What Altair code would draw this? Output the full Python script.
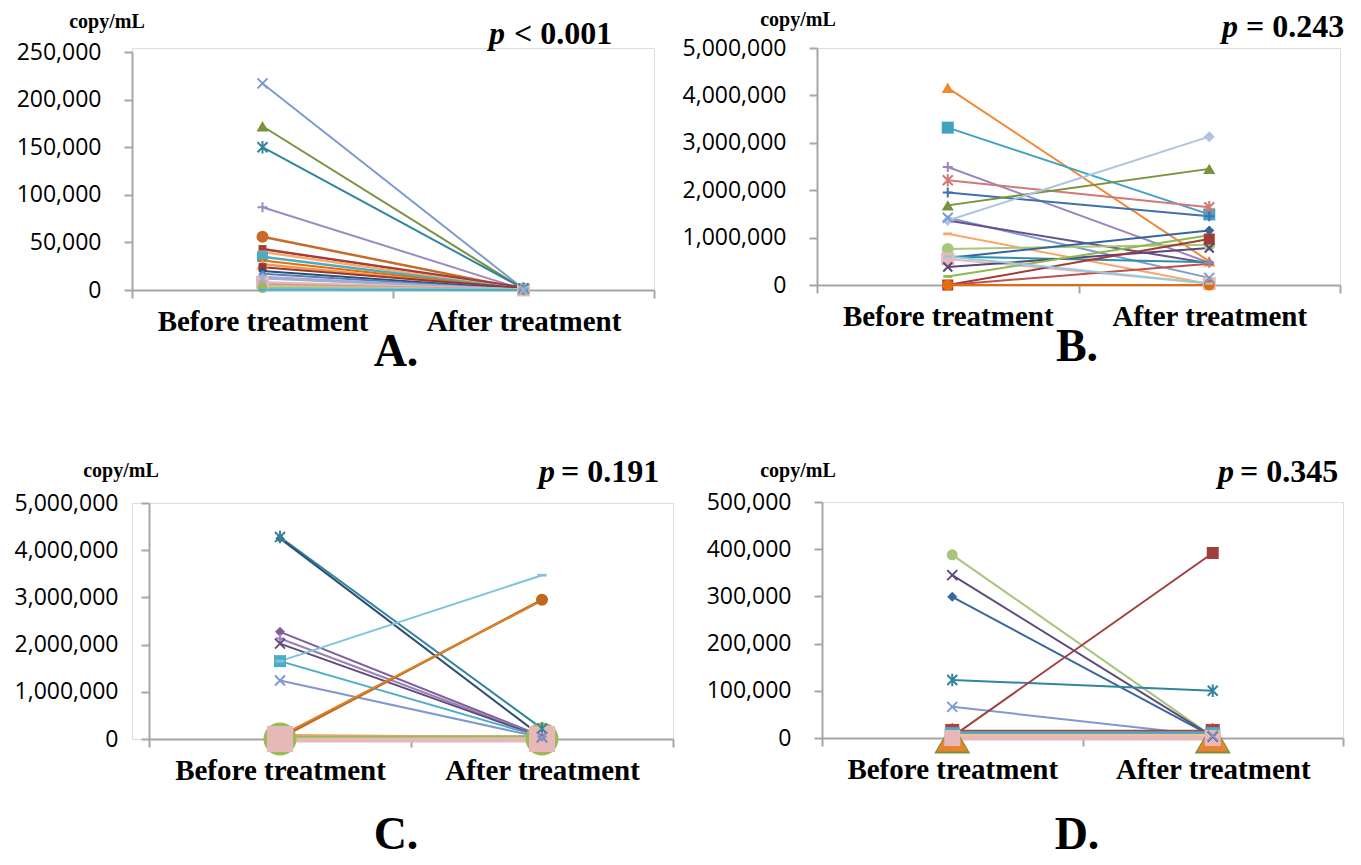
import altair as alt
import pandas as pd

STAGES = ["Before treatment", "After treatment"]
SERIF = "Liberation Serif"
SANS = "Open Sans"
AXIS_GREY = "#A6A6A6"

# ---------------- Panel A ----------------
A_before = [217000, 172000, 150000, 87000, 56000, 43000, 40000, 35000, 31000, 27000, 24000,
            20000, 17000, 14000, 12000, 8000, 6000, 4500, 3000, 2000, 800, 400]
A_after = [1200, 900, 1500, 600, 800, 2500, 700, 900, 500, 300, 2000,
           500, 300, 400, 200, 100, 300, 100, 100, 50, 50, 0]
A_colors = ["#7F9ACF", "#77933C", "#31859C", "#9D8BC0", "#C66B28", "#A33E3B", "#F9AB6B", "#4BACC6",
            "#E46C0A", "#F79646", "#953735", "#2C4D75", "#4F81BD", "#B3A2C7", "#95B3D7", "#E6B9B8",
            "#D99694", "#C4BD97", "#C3D69B", "#9BBB59", "#93CDDD", "#4BACC6"]
A_shapes = ["x", "triangle", "asterisk", "plus", "circle", "square", "dash", "square", "dash", "triangle",
            "square", "diamond", "diamond", "triangle", "x", "square", "circle", "dash", "dash", "circle",
            "dash", "dash"]
A_msize = [10, 12, 10, 10, 12, 8, 9, 11, 8, 12, 8, 8, 8, 11, 8, 13, 8, 8, 8, 10, 8, 8]
A_lw = [2, 2, 2, 2, 2.5, 2.5, 2.5, 2.5, 2, 2.5, 2, 2, 2, 2, 2, 3, 2, 2, 2, 2, 3, 2]

# ---------------- Panel B ----------------
B_before = [4160000, 3320000, 2490000, 2210000, 1950000, 1680000, 1420000, 1360000, 1360000, 1080000,
            760000, 570000, 600000, 550000, 380000, 180000, 0, 0, 0, 600000]
B_after = [500000, 1490000, 470000, 1640000, 1450000, 2450000, 150000, 3130000, 460000, 20000,
           850000, 1150000, 480000, 30000, 780000, 1050000, 970000, 450000, 0, 30000]
B_colors = ["#F0892F", "#3FA3C0", "#9A86BE", "#D27876", "#3F6FAE", "#77933C", "#7F9ACF", "#AFC3E3",
            "#6A5288", "#F9A66B", "#A9C77A", "#36659E", "#2E8FA8", "#E6B9B8", "#5B4677", "#8DB94F",
            "#A23A37", "#C0504D", "#E46C0A", "#93CDDD"]
B_shapes = ["triangle", "square", "plus", "asterisk", "plus", "triangle", "x", "diamond", "none", "dash",
            "circle", "diamond", "dash", "square", "x", "dash", "square", "dash", "circle", "dash"]
B_msize = [12, 12, 10, 10, 10, 12, 10, 11, 8, 9, 12, 10, 8, 13, 9, 9, 11, 8, 11, 8]
B_lw = [2] * 20

# ---------------- Panel C ----------------
C_before = [4280000, 4250000, 2270000, 2130000, 2020000, 1650000, 1650000, 1240000, 20000, 60000,
            0, 80000, 0, 50000]
C_after = [220000, 50000, 60000, 50000, 40000, 40000, 3470000, 30000, 2950000, 2930000,
           0, 40000, 0, 60000]
C_colors = ["#31859C", "#2C4D75", "#7D5FA0", "#9983B5", "#604A7B", "#4BACC6", "#7FC4D9", "#7F9ACF",
            "#C0661E", "#D9822B", "#9BBB59", "#F79646", "#E6B9B8", "#9BBB59"]
C_shapes = ["asterisk", "diamond", "diamond", "plus", "x", "square", "dash", "x", "circle", "none",
            "circle", "none", "square", "none"]
C_msize = [10, 9, 10, 9, 10, 12, 9, 10, 12, 8, 33, 8, 26, 8]
C_lw = [2, 2, 2, 2, 2, 2, 2, 2, 2.5, 2, 3, 2.5, 7, 2]

# ---------------- Panel D ----------------
D_before = [388000, 345000, 299000, 123000, 66000, 3000, 0, 0, 0, 15000, 7000, 3000, 0]
D_after = [3000, 3000, 3000, 100000, 5000, 392000, 0, 0, 0, 15000, 7000, 3000, 0]
D_colors = ["#A9C47F", "#604A7B", "#3A679C", "#31859C", "#7F9ACF", "#A0403D", "#77933C", "#E9822F",
            "#9BBB59", "#B0423F", "#4BACC6", "#FAC090", "#E6B9B8"]
D_shapes = ["circle", "x", "diamond", "asterisk", "x", "square", "triangle", "triangle", "square",
            "square", "square", "dash", "square"]
D_msize = [11, 10, 10, 10, 10, 12, 36, 31, 12, 14, 15, 12, 16]
D_lw = [2, 2, 2, 2, 2, 2, 3, 3, 2, 2.5, 7, 5, 5]

SHAPE_DEF = {
    "circle": ("circle", True),
    "square": ("square", True),
    "diamond": ("diamond", True),
    "triangle": ("triangle-up", True),
    "dash": ("M-1,-0.3L1,-0.3L1,0.3L-1,0.3Z", True),
    "x": ("M-1,-1L1,1M-1,1L1,-1", False),
    "asterisk": ("M-1,-1L1,1M-1,1L1,-1M0,-1.25L0,1.25", False),
    "plus": ("M-1,0L1,0M0,-1L0,1", False),
}

ONE = pd.DataFrame({"k": [0]})


def build(before, after, colors, shapes, msizes, lwidths):
    lines, fills, strokes = [], [], []
    for i in range(len(before)):
        shp, filled = SHAPE_DEF.get(shapes[i], (None, None))
        for stage, v in zip(STAGES, (before[i], after[i])):
            r = dict(pid=i, stage=stage, value=v, color=colors[i], lw=lwidths[i],
                     shape=shp, size=msizes[i] ** 2)
            lines.append(r)
            if shp is None:
                continue
            (fills if filled else strokes).append(r)
    return pd.DataFrame(lines), pd.DataFrame(fills), pd.DataFrame(strokes)


def txt(text, x, y, size, style="normal", align="center", baseline="middle"):
    return alt.Chart(ONE).mark_text(
        text=text, font=SERIF, fontSize=size, fontWeight="bold", fontStyle=style,
        align=align, baseline=baseline, color="black"
    ).encode(x=alt.value(x), y=alt.value(y))


def panel(data, ymax, ystep, origin, plot, extent, copy_xy, p_x, rest_x, p_y, p_rest,
          letter, letter_xy, page_top, page_bottom):
    """origin: page position of the panel's group origin; plot: (left, top, width, height) in page px."""
    ox, oy = origin
    px, py, w, h = plot
    lsh, tsh = px - ox, py - oy
    lines_df, fill_df, stroke_df = build(*data)
    xaxis = alt.Axis(title=None, labelAngle=0, tickBand="extent", labelFont=SERIF, labelFontWeight="bold",
                     labelFontSize=29, labelColor="black", labelLimit=0, domainColor=AXIS_GREY, domainWidth=2,
                     tickColor=AXIS_GREY, tickWidth=2, tickSize=8, labelPadding=9)
    ykw = dict(title=None, values=list(range(0, ymax + 1, ystep)), format=",d", grid=False,
               labelFont=SANS, labelFontSize=23, labelColor="black", domainColor=AXIS_GREY,
               domainWidth=2, tickColor=AXIS_GREY, tickWidth=2, tickSize=8, labelPadding=23)
    if extent:
        ykw["minExtent"] = extent
    if lsh:
        ykw["offset"] = -lsh
    yaxis = alt.Axis(**ykw)
    X = alt.X("stage:N", sort=STAGES, bandPosition=0.5,
              scale=alt.Scale(type="band", domain=STAGES, paddingInner=0, paddingOuter=0,
                              range=[lsh, lsh + w]), axis=xaxis)
    Y = alt.Y("value:Q", scale=alt.Scale(domain=[0, ymax], nice=False, zero=True,
                                         range=[tsh + h, tsh]), axis=yaxis)

    bound = alt.Chart(ONE).mark_rule(opacity=0).encode(
        x=alt.value(lsh), y=alt.value(page_top - oy), y2=alt.value(page_bottom - oy))
    line = alt.Chart(lines_df).mark_line().encode(
        x=X, y=Y, detail=alt.Detail("pid:N"),
        color=alt.Color("color:N", scale=None),
        strokeWidth=alt.StrokeWidth("lw:Q", scale=None),
    )
    layers = [bound, line]
    if len(fill_df):
        layers.append(alt.Chart(fill_df).mark_point(filled=True, opacity=1).encode(
            x=X, y=Y, detail=alt.Detail("pid:N"),
            color=alt.Color("color:N", scale=None),
            shape=alt.Shape("shape:N", scale=None),
            size=alt.Size("size:Q", scale=None)))
    if len(stroke_df):
        layers.append(alt.Chart(stroke_df).mark_point(filled=False, opacity=1, strokeWidth=2).encode(
            x=X, y=Y, detail=alt.Detail("pid:N"),
            color=alt.Color("color:N", scale=None),
            shape=alt.Shape("shape:N", scale=None),
            size=alt.Size("size:Q", scale=None)))
    layers += [
        txt("copy/mL", copy_xy[0] - ox, copy_xy[1] - oy, 20),
        txt("p", p_x - ox, p_y - oy, 32, style="italic", align="left", baseline="alphabetic"),
        txt(p_rest, rest_x - ox, p_y - oy, 32, align="left", baseline="alphabetic"),
        txt(letter, letter_xy[0] - ox, letter_xy[1] - oy, 46, baseline="alphabetic"),
    ]
    return alt.layer(*layers).properties(width=w + lsh, height=h + tsh)


pA = panel((A_before, A_after, A_colors, A_shapes, A_msize, A_lw), 250000, 50000,
           (131, 47), (131, 51, 522, 238), 123,
           (106, 21), 488, 513, 43, "< 0.001", "A.", (395, 365), 8, 391)
pB = panel((B_before, B_after, B_colors, B_shapes, B_msize, B_lw), 5000000, 1000000,
           (815, 47), (815, 47, 523, 237), 141,
           (796, 19), 1220, 1244, 36, "= 0.243", "B.", (1075, 360), 8, 391)
pC = panel((C_before, C_after, C_colors, C_shapes, C_msize, C_lw), 5000000, 1000000,
           (131, 500), (148, 500, 524, 236), None,
           (120, 468), 538, 560, 479, "= 0.191", "C.", (395, 846), 440, 857)
pD = panel((D_before, D_after, D_colors, D_shapes, D_msize, D_lw), 500000, 100000,
           (820, 499), (820, 499, 521, 236), 146,
           (796, 468), 1216, 1238, 479, "= 0.345", "D.", (1075, 846), 440, 857)

chart = alt.concat(pA, pB, pC, pD, columns=2, align="none",
                   spacing={"row": 49, "column": 0}, padding=0)
chart = chart.configure_view(stroke=None).configure(background="white")

chart.save("out.html", embed_options={"renderer": "svg", "actions": False})
